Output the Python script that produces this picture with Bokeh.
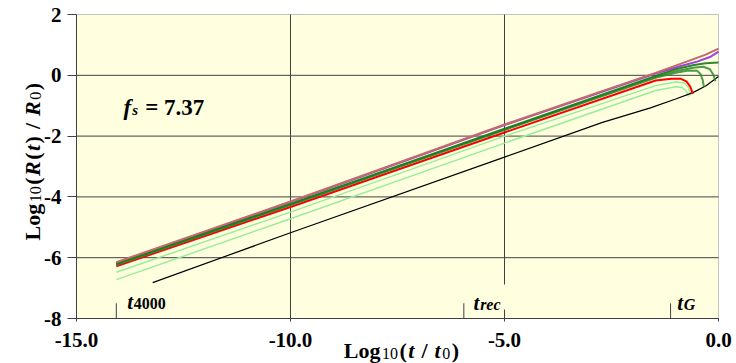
import math
from bokeh.plotting import figure
from bokeh.models import (Range1d, FixedTicker, NumeralTickFormatter, Label,
                          LinearAxis, BoxAnnotation)
from bokeh.embed import file_html
from bokeh.resources import INLINE

# ---------------- data ----------------
brown_x = [-14.07, -10.0, -5.0, -1.47, -0.65, -0.3, 0.0]
brown_y = [-6.15, -4.15, -1.62, 0.08, 0.50, 0.68, 0.88]

purple_x = [-14.07, -10.0, -5.0, -1.47, -0.9, -0.5, -0.2, 0.0]
purple_y = [-6.17, -4.17, -1.64, 0.06, 0.30, 0.45, 0.60, 0.78]

green1_x = [-14.07, -10.0, -5.0, -1.47, -1.0, -0.6, -0.3, 0.0]
green1_y = [-6.20, -4.23, -1.76, -0.02, 0.20, 0.33, 0.40, 0.42]

green2_x = [-14.07, -10.0, -5.0, -1.47, -1.0, -0.6, -0.35, -0.2, -0.12, -0.07]
green2_y = [-6.22, -4.25, -1.78, -0.05, 0.13, 0.25, 0.28, 0.20, 0.02, -0.19]

green3_x = [-14.07, -10.0, -5.0, -1.47, -1.0, -0.7, -0.5, -0.42, -0.37, -0.34]
green3_y = [-6.24, -4.27, -1.80, -0.08, 0.08, 0.16, 0.15, 0.04, -0.15, -0.39]

red_x = [-14.07, -10.0, -5.0, -1.47, -1.1, -0.89, -0.75, -0.66, -0.6]
red_y = [-6.28, -4.33, -1.88, -0.17, -0.11, -0.11, -0.20, -0.37, -0.61]

lgreen1_x = [-14.07, -10.0, -5.0, -1.47, -1.0, -0.8, -0.7, -0.65]
lgreen1_y = [-6.48, -4.50, -2.00, -0.34, -0.22, -0.25, -0.40, -0.66]

lgreen2_x = [-14.07, -10.0, -5.0, -1.47, -1.0, -0.85, -0.75, -0.7]
lgreen2_y = [-6.72, -4.72, -2.23, -0.50, -0.38, -0.40, -0.52, -0.70]

black_x = [-13.22, -10.0, -5.0, -2.71, -1.59, -1.0, -0.6, -0.3, 0.0]
black_y = [-6.82, -5.18, -2.69, -1.55, -1.07, -0.78, -0.57, -0.35, -0.04]

# epoch markers: t4000, trec, tG
marker_x = [-14.07, -5.95, -1.12]
marker_sub = ["4000", "rec", "G"]

x_ticks = [-15, -10, -5, 0]
y_ticks = [-8, -6, -4, -2, 0, 2]
x_grid = [-10, -5]
y_grid = [-6, -4, -2, 0]
fs_value = "7.37"

# ---------------- styling / layout ----------------
BG = "#FFFFE0"
GRID = "#404040"
FONT = "Liberation Serif, Times New Roman, DejaVu Serif, serif"
X0, X1, Y0, Y1 = -15.0, 0.0, -8.0, 2.0
W, H = 736, 363
FL, FR, FT, FB = 76.0, 718.0, 14.0, 318.0   # plot-area edges in canvas pixels
SX = (FR - FL) / (X1 - X0)                  # pixels per x unit
SY = (FB - FT) / (Y1 - Y0)                  # pixels per y unit
XS = X0 - FL / SX
YE = Y1 + FT / SY


def px(xp, yp):
    """canvas pixel -> data coords"""
    return (X0 + (xp - FL) / SX, Y1 - (yp - FT) / SY)


p = figure(width=W, height=H, output_backend="svg", toolbar_location=None,
           x_range=Range1d(XS, XS + W / SX), y_range=Range1d(YE - H / SY, YE),
           x_axis_location=None, y_axis_location=None,
           min_border=0, min_border_left=0, min_border_right=0,
           min_border_top=0, min_border_bottom=0)
p.background_fill_color = "white"
p.border_fill_color = "white"
p.outline_line_color = None
p.xgrid.visible = False
p.ygrid.visible = False

# plot area background + frame
p.add_layout(BoxAnnotation(left=X0, right=X1, bottom=Y0, top=Y1, fill_color=BG,
                           fill_alpha=1.0, line_color=GRID, line_width=1,
                           level="underlay"))

# axes (library axes, pinned to the plot-area edges)
xaxis = LinearAxis(fixed_location=Y0, ticker=FixedTicker(ticks=x_ticks),
                   formatter=NumeralTickFormatter(format="0.0"), bounds=(X0, X1))
yaxis = LinearAxis(fixed_location=X0, ticker=FixedTicker(ticks=y_ticks),
                   formatter=NumeralTickFormatter(format="0"), bounds=(Y0, Y1))
for ax in (xaxis, yaxis):
    ax.major_label_text_font = FONT
    ax.major_label_text_font_style = "bold"
    ax.major_label_text_font_size = "21px"
    ax.major_label_text_color = "black"
    ax.axis_line_color = GRID
    ax.major_tick_line_color = GRID
    ax.minor_tick_line_color = None
    ax.major_tick_in = 0
xaxis.major_tick_out = 3
xaxis.major_label_standoff = 11
yaxis.major_tick_out = 9
yaxis.major_label_standoff = 6
p.add_layout(xaxis, "below")
p.add_layout(yaxis, "left")

# grid lines
p.segment(x0=x_grid, y0=[Y0] * len(x_grid), x1=x_grid, y1=[Y1] * len(x_grid),
          line_color=GRID, line_width=1)
p.segment(x0=[X0] * len(y_grid), y0=y_grid, x1=[X1] * len(y_grid), y1=y_grid,
          line_color=GRID, line_width=1)

# ---------------- curves ----------------
p.line(lgreen2_x, lgreen2_y, line_color="#98EE98", line_width=1.5)
p.line(lgreen1_x, lgreen1_y, line_color="#98EE98", line_width=1.5)
p.line(black_x, black_y, line_color="black", line_width=1.2)
p.line(red_x, red_y, line_color="#FF0000", line_width=2)
p.line(purple_x, purple_y, line_color="#A040E0", line_width=2)
p.line(green3_x, green3_y, line_color="#2E8B2E", line_width=2, line_alpha=0.85)
p.line(green2_x, green2_y, line_color="#2E8B2E", line_width=2, line_alpha=0.85)
p.line(green1_x, green1_y, line_color="#1A7A1A", line_width=2, line_alpha=0.9)
p.line(brown_x, brown_y, line_color="#C46A6A", line_width=2)

# epoch marker ticks
MARK_H = 0.5
p.segment(x0=marker_x, y0=[Y0] * len(marker_x), x1=marker_x,
          y1=[Y0 + MARK_H] * len(marker_x), line_color=GRID, line_width=1)

# the t_rec label box hides the -5 grid line behind it
bl, bt = px(467.0, 284.0)
br, bb = px(512.0, 309.0)
p.add_layout(BoxAnnotation(left=bl, right=br, top=bt, bottom=bb, fill_color=BG,
                           fill_alpha=1.0, line_color=None, level="annotation"))

# ---------------- text ----------------
ADV = {  # Times-compatible advance widths (1/1000 em)
    "bold": {"L": 667, "o": 500, "g": 500, "(": 333, ")": 333, " ": 250,
             "/": 278, "=": 570, ".": 250},
    "bold italic": {"t": 278, "R": 667, "f": 333, "s": 389, "r": 389,
                    "e": 444, "c": 444, "G": 722},
    "normal": {},
}


def adv(text, size, style):
    return sum(ADV[style].get(ch, 500) for ch in text) * size / 1000.0


def lab(xp, yp, text, size, style="bold", angle=0.0):
    x, y = px(xp, yp)
    p.add_layout(Label(x=x, y=y, text=text, text_font=FONT, text_font_style=style,
                       text_font_size=f"{size}px", text_align="left",
                       text_baseline="alphabetic", angle=angle,
                       text_color="black"))


def run(x0, y0, pieces, gap, vertical=False):
    """lay out mixed-style pieces one after the other along the baseline;
    each piece: (text, size, style, baseline shift, leading space in px)"""
    pos = y0 if vertical else x0
    for text, size, style, shift, pre in pieces:
        if vertical:
            pos -= pre
            lab(x0 + shift, pos, text, size, style, angle=math.pi / 2)
            pos -= adv(text, size, style) + gap
        else:
            pos += pre
            lab(pos, y0 + shift, text, size, style)
            pos += adv(text, size, style) + gap


SP = 5.5  # width of a space at 22px

# epoch labels
run(126.7, 301.7, [("t", 21, "bold italic", 0, 0), (marker_sub[0], 16, "bold", 1.3, 0)], 0.8)
run(473.0, 302.7, [("t", 21, "bold italic", 0, 0), (marker_sub[1], 16, "bold italic", 1.3, 0)], 0.8)
run(676.7, 302.7, [("t", 21, "bold italic", 0, 0), (marker_sub[2], 16, "bold italic", 1.3, 0)], 0.8)

# f_s annotation
run(123.0, 106.7, [("f", 23, "bold italic", 0, 0), ("s", 15, "bold italic", 3, 0),
                   ("= " + fs_value, 23, "bold", 0, 5.8)], 1.2)

# x-axis title: Log10(t / t0)
run(343.3, 350.0, [("Log", 22, "bold", 0, 0), ("10", 16, "normal", 3, 0),
                   ("(", 22, "bold", 0, 0), ("t", 22, "bold italic", 0, 0),
                   ("/", 22, "bold", 0, SP), ("t", 22, "bold italic", 0, SP),
                   ("0", 16, "normal", 3, 0), (")", 22, "bold", 0, 0)], 1.5)

# y-axis title (rotated): Log10(R(t) / R0)
run(32.0, 240.0, [("Log", 22, "bold", 0, 0), ("10", 16, "normal", 3, 0),
                  ("(", 22, "bold", 0, 0), ("R", 22, "bold italic", 0, 0),
                  ("(", 22, "bold", 0, 0), ("t", 22, "bold italic", 0, 0),
                  (")", 22, "bold", 0, 0), ("/", 22, "bold", 0, SP),
                  ("R", 22, "bold italic", 0, SP), ("0", 16, "normal", 3, 0),
                  (")", 22, "bold", 0, 0)], 1.5, vertical=True)

open("out.html", "w").write(file_html(p, INLINE))
